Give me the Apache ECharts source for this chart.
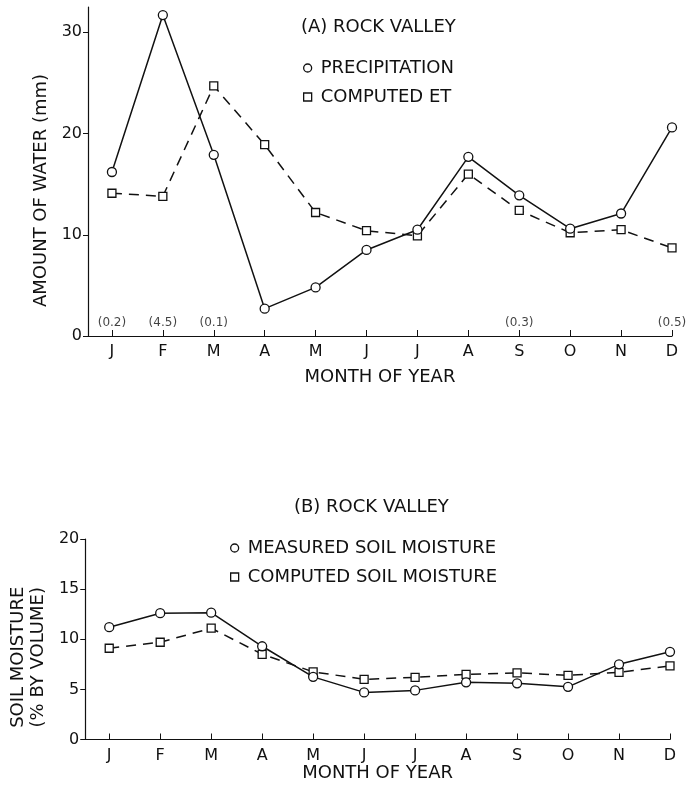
<!DOCTYPE html>
<html>
<head>
<meta charset="utf-8">
<script src="https://cdn.jsdelivr.net/npm/echarts@6/dist/echarts.min.js"></script>
<style>
    html, body { margin: 0; padding: 0; background: #fff; }
    #chart { width: 689px; height: 787px; }
</style>
</head>
<body>
<div id="chart"></div>
<script>
// month letters along both x axes
const months = ['J', 'F', 'M', 'A', 'M', 'J', 'J', 'A', 'S', 'O', 'N', 'D'];

// (A) amount of water, mm
const precipitation = [16.2, 31.7, 17.9, 2.7, 4.8, 8.5, 10.5, 17.7, 13.9, 10.6, 12.1, 20.6];
const computedET = [14.1, 13.8, 24.7, 18.9, 12.2, 10.4, 9.9, 16.0, 12.4, 10.2, 10.5, 8.7];
// small bracketed numbers sitting on the x axis
const noteMonths = [0, 1, 2, 8, 11];
const noteTexts = ['(0.2)', '(4.5)', '(0.1)', '(0.3)', '(0.5)'];

// (B) soil moisture, % by volume
const measuredSoil = [11.2, 12.6, 12.65, 9.3, 6.25, 4.7, 4.9, 5.7, 5.6, 5.25, 7.5, 8.75];
const computedSoil = [9.1, 9.7, 11.1, 8.5, 6.75, 6.0, 6.2, 6.5, 6.65, 6.4, 6.7, 7.35];

const topTicks = [0, 10, 20, 30];
const monthIdx = months.map((m, i) => i);

const ink = '#111';
const font = 'DejaVu Sans';

function pairs(arr) {
    return arr.map((v, i) => [i, v]);
}

function monthAxis(gridIndex, nameGap) {
    return {
        type: 'value',
        gridIndex: gridIndex,
        min: -0.47,
        max: 11,
        name: 'MONTH OF YEAR',
        nameLocation: 'middle',
        nameGap: nameGap,
        nameTextStyle: {color: ink, fontFamily: font, fontSize: 18},
        axisLine: {show: true, onZero: false, lineStyle: {color: ink, width: 1.2}},
        axisTick: {show: true, inside: true, length: 6, customValues: monthIdx, lineStyle: {color: ink}},
        axisLabel: {
            customValues: monthIdx,
            formatter: v => months[Math.round(v)],
            color: ink, fontFamily: font, fontSize: 16, margin: 8
        },
        splitLine: {show: false}
    };
}

const markerStyle = {color: '#fff', borderColor: ink, borderWidth: 1.3};

const chart = echarts.init(document.getElementById('chart'), null, {renderer: 'canvas'});

const option = {
    backgroundColor: '#fff',
    animation: false,
    title: [{
        text: '(A) ROCK VALLEY',
        left: 296,
        top: 13,
        textStyle: {color: ink, fontFamily: font, fontSize: 18, fontWeight: 'normal'}
    }, {
        text: '(B) ROCK VALLEY',
        left: 289,
        top: 493,
        textStyle: {color: ink, fontFamily: font, fontSize: 18, fontWeight: 'normal'}
    }],
    legend: [{
        orient: 'vertical',
        left: 298,
        top: 54,
        itemWidth: 8,
        itemHeight: 8,
        itemGap: 11,
        selectedMode: false,
        itemStyle: markerStyle,
        textStyle: {color: ink, fontFamily: font, fontSize: 18, padding: [0, 0, 0, 4]},
        data: [{name: 'PRECIPITATION', icon: 'circle'}, {name: 'COMPUTED ET', icon: 'rect'}]
    }, {
        orient: 'vertical',
        left: 225,
        top: 534,
        itemWidth: 8,
        itemHeight: 8,
        itemGap: 11,
        selectedMode: false,
        itemStyle: markerStyle,
        textStyle: {color: ink, fontFamily: font, fontSize: 18, padding: [0, 0, 0, 4]},
        data: [{name: 'MEASURED SOIL MOISTURE', icon: 'circle'}, {name: 'COMPUTED SOIL MOISTURE', icon: 'rect'}]
    }],
    grid: [
        {left: 88, right: 17, top: 7, height: 329},
        {left: 83, right: 19, top: 539, height: 200.5}
    ],
    xAxis: [monthAxis(0, 32), monthAxis(1, 25)],
    yAxis: [{
        type: 'value',
        gridIndex: 0,
        min: 0,
        max: 32.5,
        name: 'AMOUNT OF WATER (mm)',
        nameLocation: 'middle',
        nameGap: 33,
        nameTextStyle: {color: ink, fontFamily: font, fontSize: 18, padding: [0, 38, 0, 0]},
        axisLine: {show: true, onZero: false, lineStyle: {color: ink, width: 1.2}},
        axisTick: {show: true, length: 5, customValues: topTicks, lineStyle: {color: ink}},
        axisLabel: {customValues: topTicks, color: ink, fontFamily: font, fontSize: 16, margin: 6},
        splitLine: {show: false}
    }, {
        type: 'value',
        gridIndex: 1,
        min: 0,
        max: 20,
        interval: 5,
        name: 'SOIL MOISTURE\n(% BY VOLUME)',
        nameLocation: 'middle',
        nameGap: 36,
        nameTextStyle: {color: ink, fontFamily: font, fontSize: 18, lineHeight: 20, padding: [0, 36, 0, 0]},
        axisLine: {show: true, onZero: false, lineStyle: {color: ink, width: 1.2}},
        axisTick: {show: true, length: 5, lineStyle: {color: ink}},
        axisLabel: {color: ink, fontFamily: font, fontSize: 16, margin: 6},
        splitLine: {show: false}
    }],
    series: [{
        name: 'PRECIPITATION',
        type: 'line',
        xAxisIndex: 0,
        yAxisIndex: 0,
        data: pairs(precipitation),
        symbol: 'circle',
        symbolSize: 9,
        showAllSymbol: true,
        lineStyle: {color: ink, width: 1.5},
        itemStyle: markerStyle,
        z: 3
    }, {
        name: 'COMPUTED ET',
        type: 'line',
        xAxisIndex: 0,
        yAxisIndex: 0,
        data: pairs(computedET),
        symbol: 'rect',
        symbolSize: 8,
        showAllSymbol: true,
        lineStyle: {color: ink, width: 1.5, type: [10, 7]},
        itemStyle: markerStyle,
        z: 2
    }, {
        name: 'notes',
        type: 'scatter',
        xAxisIndex: 0,
        yAxisIndex: 0,
        silent: true,
        symbolSize: 0,
        data: noteMonths.map((m, i) => ({value: [m, 0], label: {formatter: noteTexts[i]}})),
        label: {show: true, position: 'top', distance: 7, color: ink, fontFamily: font, fontSize: 12}
    }, {
        name: 'MEASURED SOIL MOISTURE',
        type: 'line',
        xAxisIndex: 1,
        yAxisIndex: 1,
        data: pairs(measuredSoil),
        symbol: 'circle',
        symbolSize: 9,
        showAllSymbol: true,
        lineStyle: {color: ink, width: 1.5},
        itemStyle: markerStyle,
        z: 3
    }, {
        name: 'COMPUTED SOIL MOISTURE',
        type: 'line',
        xAxisIndex: 1,
        yAxisIndex: 1,
        data: pairs(computedSoil),
        symbol: 'rect',
        symbolSize: 8,
        showAllSymbol: true,
        lineStyle: {color: ink, width: 1.5, type: [10, 7]},
        itemStyle: markerStyle,
        z: 2
    }]
};

chart.setOption(option);
</script>
</body>
</html>
